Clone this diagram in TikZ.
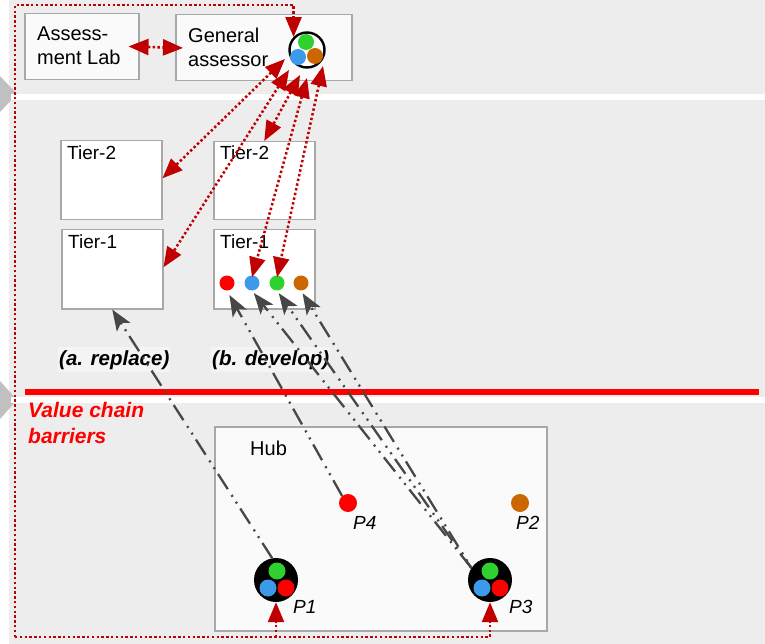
\documentclass[tikz,border=0pt]{standalone}
\usepackage{fontspec}
\setmainfont{Liberation Sans}
\usetikzlibrary{arrows.meta}
\definecolor{band}{HTML}{EDEDED}
\definecolor{marker}{HTML}{C0C0C0}
\definecolor{darkred}{HTML}{C00000}
\definecolor{conn}{HTML}{474747}
\definecolor{boxline}{HTML}{A8A8A8}
\definecolor{boxfill}{HTML}{FAFAFA}
\definecolor{tagfill}{HTML}{F4F4F4}
\definecolor{dotgreen}{HTML}{2ED12E}
\definecolor{dotblue}{HTML}{3D9AEA}
\definecolor{dotorange}{HTML}{CC6600}
\definecolor{dotred}{HTML}{FF0000}

\begin{document}
\begin{tikzpicture}[x=1pt,y=-1pt,
  panel/.style={draw=boxline,line width=1.5pt,fill=#1,anchor=north west,inner sep=0pt},
  txt/.style={inner sep=0pt,anchor=base west,font=\fontsize{20}{24}\selectfont},
  tiertxt/.style={inner sep=0pt,anchor=base west,font=\fontsize{19}{23}\selectfont},
  ptxt/.style={inner sep=0pt,anchor=base west,font=\fontsize{19}{23}\selectfont\itshape},
  tag/.style={anchor=base west,inner xsep=1pt,inner ysep=3pt,fill=tagfill,
    font=\fontsize{20.5}{24}\selectfont\bfseries\itshape},
  dot/.style={circle,fill=#1,minimum size=15pt,inner sep=0pt},
  subdot/.style={circle,fill=#1,minimum size=17pt,inner sep=0pt},
  party/.style={circle,fill=black,minimum size=44pt,inner sep=0pt},
  redtip/.tip={Triangle[length=20pt,width=16pt]},
  greytip/.tip={Stealth[length=21pt,width=16pt,inset=5pt]},
  redlink/.style={darkred,line width=2.5pt,dash pattern=on 2.4pt off 2.4pt},
  redboth/.style={redlink,redtip-redtip},
  redone/.style={redlink,-redtip},
  greylink/.style={conn,line width=2.3pt,
    dash pattern=on 18pt off 6pt on 2pt off 6pt on 2pt off 7pt,
    -greytip}
]
\useasboundingbox (0,0) rectangle (765,644);

% background bands
\fill[white] (0,0) rectangle (765,644);
\fill[band] (9,0) rectangle (765,644);
\fill[marker] (0,76) -- (17,94) -- (0,112) -- cycle;
\fill[marker] (0,381) -- (17,400) -- (0,419) -- cycle;
\fill[white] (11,94) rectangle (765,100);
\fill[white] (11,397) rectangle (765,403);

% barrier line
\fill[dotred] (25,389) rectangle (759,395);
\node[inner sep=0pt,anchor=base west,text=dotred,
  font=\fontsize{21}{26}\selectfont\bfseries\itshape] (vcb) at (28,417)
  {\begin{tabular}[t]{@{}l@{}}Value chain\\barriers\end{tabular}};

% assessment boxes
\node[panel=boxfill,minimum width=114pt,minimum height=66pt] (lab) at (24,13) {};
\node[txt] (labtxt) at (37,41) {\begin{tabular}[t]{@{}l@{}}Assess-\\ment Lab\end{tabular}};
\node[panel=boxfill,minimum width=176pt,minimum height=66pt] (ga) at (175,14) {};
\node[txt] (gatxt) at (188,43) {\begin{tabular}[t]{@{}l@{}}General\\assessor\end{tabular}};

\node[circle,draw=black,line width=2.4pt,fill=white,minimum size=35pt,inner sep=0pt] (gac) at (307,50) {};
\node[subdot=dotgreen,minimum size=16pt] (gacg) at (306,42) {};
\node[subdot=dotblue,minimum size=16pt] (gacb) at (298,57) {};
\node[subdot=dotorange,minimum size=16pt] (gaco) at (315,56) {};

% tiers
\node[panel=white,minimum width=101pt,minimum height=79pt] (t2a) at (60,140) {};
\node[tiertxt] (t2atxt) at (67,160) {Tier-2};
\node[panel=white,minimum width=101pt,minimum height=79pt] (t1a) at (61,229) {};
\node[tiertxt] (t1atxt) at (68,248) {Tier-1};
\node[panel=white,minimum width=101pt,minimum height=78pt] (t2b) at (213,141) {};
\node[tiertxt] (t2btxt) at (220,160) {Tier-2};
\node[panel=white,minimum width=101pt,minimum height=79pt] (t1b) at (213,229) {};
\node[tiertxt] (t1btxt) at (220,248) {Tier-1};

\node[dot=dotred] (dr) at (227,283) {};
\node[dot=dotblue] (db) at (252,283) {};
\node[dot=dotgreen] (dg) at (277,283) {};
\node[dot=dotorange] (do) at (301,283) {};

\node[tag] (repl) at (58,365) {(a. replace)};
\node[tag] (devl) at (211,365) {(b. develop)};

% hub
\node[panel=boxfill,minimum width=332pt,minimum height=204pt] (hub) at (214,426) {};
\node[txt] (hubtxt) at (250,455) {Hub};

\node[party] (p1) at (276,580) {};
\node[subdot=dotgreen] (p1g) at (277,571) {};
\node[subdot=dotblue] (p1b) at (268,588) {};
\node[subdot=dotred] (p1r) at (286,588) {};
\node[ptxt] (p1txt) at (293,613) {P1};

\node[party] (p3) at (490,580) {};
\node[subdot=dotgreen] (p3g) at (490,571) {};
\node[subdot=dotblue] (p3b) at (482,588) {};
\node[subdot=dotred] (p3r) at (500,588) {};
\node[ptxt] (p3txt) at (509,613) {P3};

\node[dot=dotred,minimum size=18pt] (p4) at (348,503) {};
\node[ptxt] (p4txt) at (353,529) {P4};
\node[dot=dotorange,minimum size=18pt] (p2) at (520,503) {};
\node[ptxt] (p2txt) at (516,529) {P2};

% outer feedback frame
\coordinate (fbl) at (15,637);
\coordinate (ftr) at (gac.136 |- 0,5);
\draw[redone] (fbl) |- (ftr) -- (gac.136);
\draw[redone] (fbl) -| (p3.south);
\draw[redone] (fbl -| p1.south) -- (p1.south);

% lab <-> general assessor
\draw[redboth,shorten <=-11pt,shorten >=-8pt] (lab.east) -- (ga.west);

% assessor links to the tiers
\coordinate (ga1) at (285,59);
\coordinate (ga2) at (289,70);
\coordinate (ga3) at (300,75);
\coordinate (ga4) at (307,78);
\coordinate (ga5) at (323,66);
\draw[redboth] (ga1) -- ([yshift=2pt]t2a.east);
\draw[redboth] (ga2) -- ([yshift=2pt]t1a.east);
\draw[redboth] (ga3) -- (t2b.north);
\draw[redboth] (ga4) -- ([yshift=-2pt]db.north);
\draw[redboth] (ga5) -- ([yshift=-2pt]dg.north);

% hub parties to the tiers
\draw[greylink] (p1.100) -- (t1a.south);
\draw[greylink,shorten >=5pt] (p4.130) -- (dr.south);
\draw[greylink,shorten >=3pt] (p3.147) -- (db.south);
\draw[greylink,shorten >=3pt,dash phase=8pt] (p3.147) -- (dg.south);
\draw[greylink,shorten >=3pt,dash phase=16pt] (p3.147) -- (do.south);
\end{tikzpicture}
\end{document}
